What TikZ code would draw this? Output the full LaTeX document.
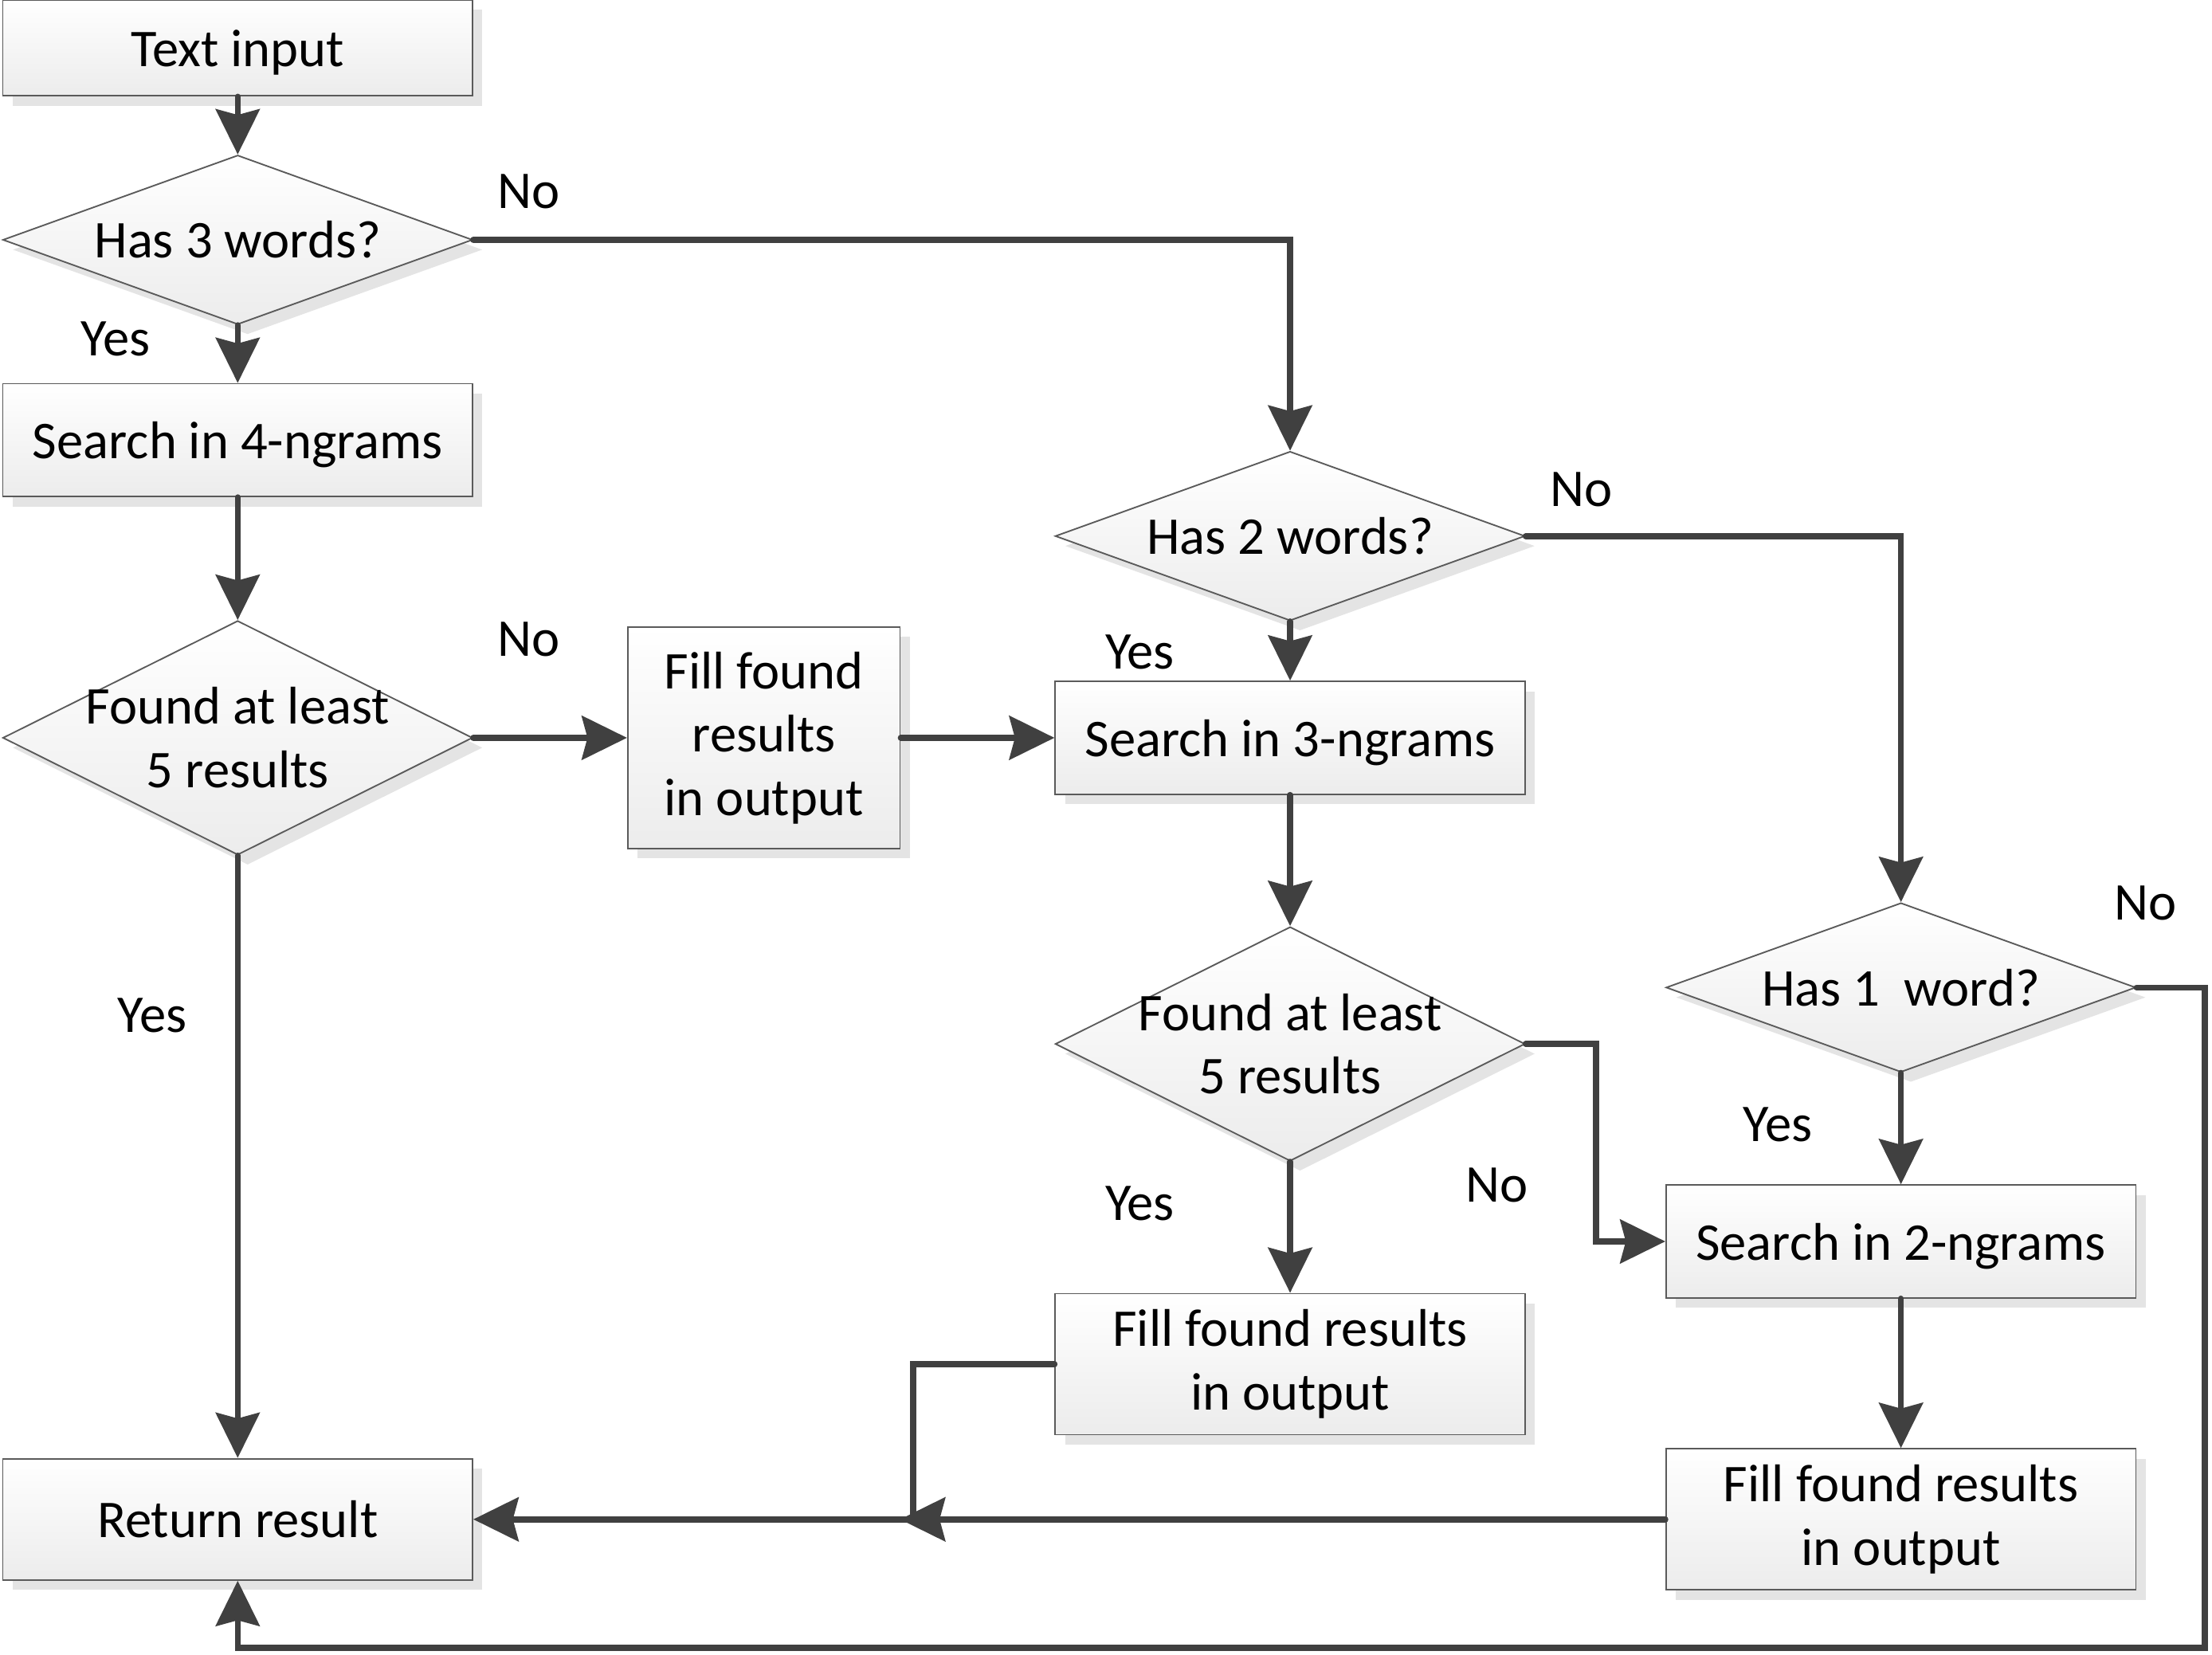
\documentclass[tikz,border=0pt]{standalone}
\usepackage{fontspec}
\setmainfont{Carlito}
\usetikzlibrary{shapes.geometric,arrows.meta,shadows}

\definecolor{edgegray}{HTML}{5A5A5A}
\definecolor{linegray}{HTML}{404040}
\definecolor{boxbottom}{HTML}{ECECEC}
\definecolor{shadowgray}{HTML}{E4E4E4}

\tikzset{
    box/.style={rectangle, draw=edgegray, line width=0.6pt,
        top color=white, bottom color=boxbottom,
        drop shadow={shadow xshift=1.4mm, shadow yshift=-1.4mm, fill=shadowgray, opacity=1},
        align=center, inner sep=0pt, minimum width=66.6mm},
    oneline/.style={box, text depth=0pt},
    decision/.style={box, diamond, minimum height=24mm},
    flow/.style={draw=linegray, line width=0.86mm, line cap=round,
        -{Stealth[length=6.4mm, width=6.2mm, inset=0.8mm]}},
    answer/.style={inner sep=0pt}
}

\begin{document}
\begin{tikzpicture}[x=0.2mm,y=-0.2mm,font=\fontsize{21.4}{25.6}\selectfont]
        \useasboundingbox (0,0) rectangle (1568,1173);

        % left column
        \node[oneline, minimum height=13.6mm] (input) at (168.5,34) {Text input};
        \node[decision] (has3) at (168.5,170) {\makebox[0pt]{Has 3 words?}};
        \node[oneline, minimum height=16mm] (search4) at (168.5,312) {Search in 4-ngrams};
        \node[decision, minimum height=33.2mm] (found4) at (168.5,523)
            {\makebox[0pt]{Found at least}\\\makebox[0pt]{5 results}};
        \node[box, minimum width=38.6mm, minimum height=31.4mm] (fill4) at (541.5,523)
            {Fill found\\results\\in output};
        \node[oneline, minimum height=17.2mm] (result) at (168.5,1077) {Return result};

        % middle column
        \node[decision] (has2) at (914.5,380) {\makebox[0pt]{Has 2 words?}};
        \node[oneline, minimum height=16mm] (search3) at (914.5,523) {Search in 3-ngrams};
        \node[decision, minimum height=33.2mm] (found3) at (914.5,740)
            {\makebox[0pt]{Found at least}\\\makebox[0pt]{5 results}};
        \node[box, minimum height=20mm] (fill3) at (914.5,967) {Fill found results\\in output};

        % right column
        \node[decision] (has1) at (1347.5,700) {\makebox[0pt]{Has 1\ \ word?}};
        \node[oneline, minimum height=16mm] (search2) at (1347.5,880) {Search in 2-ngrams};
        \node[box, minimum height=20mm] (fill2) at (1347.5,1077) {Fill found results\\in output};

        \coordinate (loop) at (1563,1168);
        \coordinate (join) at (638,1077);

        \draw[flow] (input) -- (has3);
        \draw[flow] (has3) -- (search4);
        \draw[flow] (has3.east) -| (has2.north);
        \draw[flow] (search4) -- (found4);
        \draw[flow] (found4.east) -- (fill4.west);
        \draw[flow] (found4) -- (result);
        \draw[flow] (fill4.east) -- (search3.west);
        \draw[flow] (has2) -- (search3);
        \draw[flow] (has2.east) -| (has1.north);
        \draw[flow] (search3) -- (found3);
        \draw[flow] (found3) -- (fill3);
        \draw[flow] (found3.east) -- ++(50,0) |- (search2.west);
        \draw[flow] (has1) -- (search2);
        \draw[flow] (has1.east) -| (loop) -| (result.south);
        \draw[flow] (search2) -- (fill2);
        \draw[flow] (fill2.west) -- (result.east);
        \draw[flow] (fill3.west) -- ++(-100,0) |- (join);

        \node[answer] (no3) at (375,136) {No};
        \node[answer] (yes3) at (82,240) {Yes};
        \node[answer] (no4) at (375,453) {No};
        \node[answer] (yes4) at (108,720) {Yes};
        \node[answer] (no2) at (1121,347) {No};
        \node[answer] (yes2) at (808,462) {Yes};
        \node[answer] (yesf3) at (808,853) {Yes};
        \node[answer] (nof3) at (1061,840) {No};
        \node[answer] (yes1) at (1260,797) {Yes};
        \node[answer] (no1) at (1521,640) {No};
    \end{tikzpicture}
\end{document}
